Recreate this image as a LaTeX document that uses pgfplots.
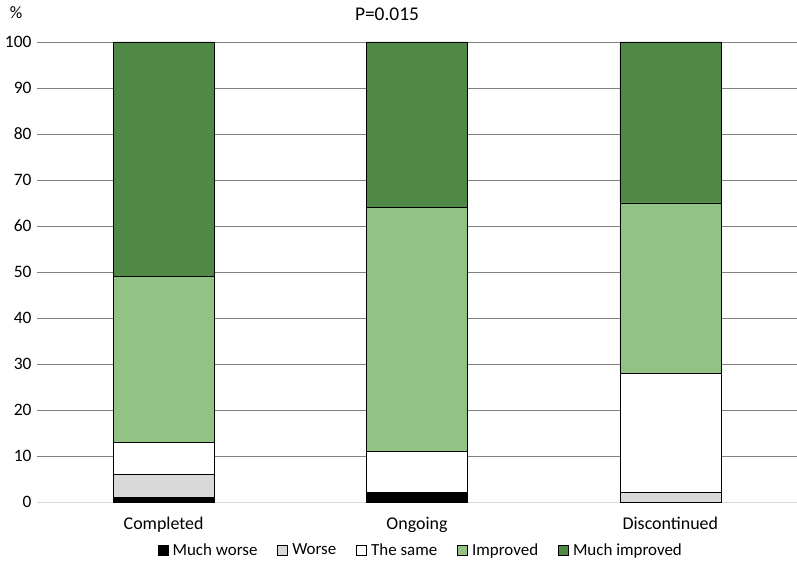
\documentclass[border=0pt]{standalone}
\usepackage{pgfplots}
\pgfplotsset{compat=1.18}
\usepackage{fontspec}
\setmainfont{Carlito}
\definecolor{mw}{RGB}{0,0,0}
\definecolor{wo}{RGB}{217,217,217}
\definecolor{sa}{RGB}{255,255,255}
\definecolor{im}{RGB}{146,195,132}
\definecolor{mi}{RGB}{80,137,69}
\begin{document}
\begin{tikzpicture}[x=1bp,y=1bp]
\path[use as bounding box] (0,0) rectangle (797,564);
\begin{axis}[
  at={(37bp,62bp)}, anchor=south west,
  scale only axis, width=760bp, height=460bp,
  ybar stacked, bar width=101bp,
  xmin=-0.5, xmax=2.5, ymin=0, ymax=100,
  xtick={0,1,2}, xticklabels={Completed,Ongoing,Discontinued},
  ytick={0,10,...,100},
  ymajorgrids, grid style={draw=black!50, line width=0.9pt},
  axis x line*=bottom, axis y line*=left,
  y axis line style={draw=none},
  x axis line style={draw=black!15, line width=0.9pt, -},
  major tick length=0pt,
  yticklabel style={font=\fontsize{17.5}{17.5}\selectfont, xshift=-2bp},
  xticklabel style={font=\fontsize{18}{18}\selectfont, yshift=-12bp},
  /pgf/number format/assume math mode=true,
  every axis plot/.append style={draw=black, line width=0.6pt},
  legend style={at={(0.505,-0.105)}, anchor=center, draw=none, legend columns=5,
    font=\fontsize{17}{17}\selectfont,
    /tikz/every odd column/.append style={column sep=2.5bp},
    /tikz/every even column/.append style={column sep=18bp}},
  legend image code/.code={\draw[#1, draw=black, line width=0.4pt] (0bp,-5bp) rectangle (10bp,5bp);},
  clip=false,
]
\addplot[fill=mw] coordinates {(0,1) (1,2) (2,0)};
\addplot[fill=wo] coordinates {(0,5) (1,0) (2,2)};
\addplot[fill=sa] coordinates {(0,7) (1,9) (2,26)};
\addplot[fill=im] coordinates {(0,36) (1,53) (2,37)};
\addplot[fill=mi] coordinates {(0,51) (1,36) (2,35)};
\legend{Much worse,Worse,The same,Improved,Much improved}
\end{axis}
\node[font=\fontsize{19.5}{19.5}\selectfont] at (387,550) {P=0.015};
\node[font=\fontsize{17.5}{17.5}\selectfont] at (16,551) {\%};
\end{tikzpicture}
\end{document}
